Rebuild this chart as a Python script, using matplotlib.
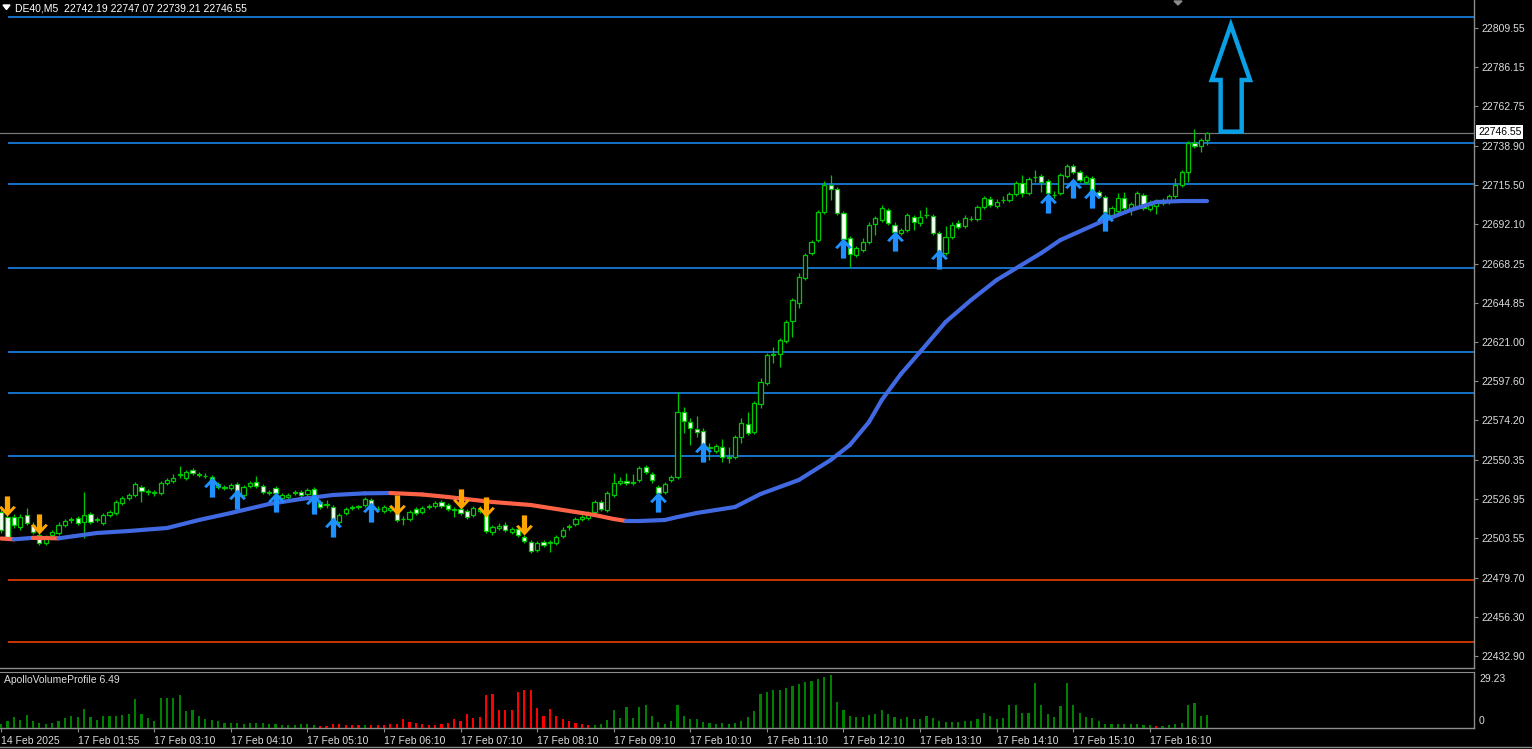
import numpy as np
import matplotlib
matplotlib.use('Agg')
import matplotlib.pyplot as plt
from matplotlib.collections import LineCollection
from matplotlib.patches import Polygon
from matplotlib.path import Path

plt.rcParams['font.family'] = ['Liberation Sans', 'DejaVu Sans']

symbol = 'DE40,M5'
last_ohlc = [22742.19, 22747.07, 22739.21, 22746.55]
indicator_name = 'ApolloVolumeProfile 6.49'
vol_max_label = 29.23

open_ = [
    22519.2, 22516.2, 22516.2, 22510.2, 22517.4, 22511.4, 22505.4, 22500.6, 22505.4, 22506.6,
    22511.4, 22514.4, 22515.6, 22513.2, 22518.0, 22514.4, 22512.6, 22517.4, 22518.6, 22524.6,
    22527.6, 22529.4, 22534.2, 22531.2, 22530.6, 22530.6, 22536.6, 22537.8, 22541.4, 22539.6,
    22544.4, 22541.4, 22540.8, 22540.2, 22534.2, 22533.6, 22533.6, 22536.0, 22529.4, 22534.8,
    22537.2, 22534.8, 22530.6, 22533.6, 22527.6, 22528.2, 22530.6, 22531.2, 22530.0, 22533.0,
    22525.2, 22523.4, 22522.2, 22513.2, 22518.6, 22521.6, 22521.9, 22523.4, 22526.4, 22521.0,
    22519.8, 22520.4, 22518.6, 22515.0, 22515.0, 22521.0, 22519.2, 22522.2, 22522.8, 22525.2,
    22523.4, 22520.4, 22521.0, 22519.8, 22517.4, 22519.8, 22518.6, 22507.2, 22509.6, 22511.4,
    22507.2, 22509.0, 22504.2, 22501.2, 22496.4, 22501.2, 22500.6, 22500.6, 22504.8, 22510.2,
    22512.0, 22515.0, 22515.6, 22519.2, 22525.2, 22520.4, 22529.4, 22536.6, 22537.8, 22536.6,
    22538.4, 22546.2, 22542.0, 22534.2, 22531.2, 22538.4, 22540.2, 22579.2, 22573.2, 22569.0,
    22567.8, 22557.6, 22555.8, 22558.2, 22551.6, 22552.2, 22564.2, 22572.0, 22567.2, 22584.0,
    22596.6, 22613.4, 22614.0, 22621.8, 22633.8, 22644.6, 22659.6, 22674.6, 22682.4, 22699.2,
    22715.4, 22713.0, 22698.6, 22683.6, 22673.4, 22676.4, 22681.2, 22692.0, 22694.4, 22700.4,
    22691.4, 22686.6, 22688.4, 22696.2, 22692.6, 22697.4, 22696.8, 22686.6, 22674.6, 22684.2,
    22692.6, 22690.8, 22695.0, 22695.0, 22702.2, 22707.0, 22702.8, 22706.4, 22706.4, 22710.0,
    22716.6, 22710.6, 22720.2, 22720.8, 22717.8, 22709.4, 22710.6, 22720.8, 22726.8, 22723.2,
    22717.2, 22719.6, 22711.2, 22708.2, 22697.4, 22699.8, 22707.6, 22700.4, 22702.8, 22709.4,
    22701.0, 22702.8, 22704.6, 22705.2, 22708.8, 22715.4, 22723.2, 22740.6, 22738.8, 22742.19,
]
close = [
    22508.4, 22504.2, 22511.4, 22516.2, 22512.6, 22507.2, 22500.6, 22504.2, 22507.2, 22511.4,
    22513.8, 22514.7, 22512.6, 22517.4, 22513.2, 22514.7, 22517.4, 22519.2, 22525.2, 22527.6,
    22529.4, 22536.0, 22531.8, 22531.5, 22530.9, 22536.6, 22538.4, 22539.6, 22541.7, 22543.2,
    22542.6, 22541.7, 22541.1, 22538.4, 22536.0, 22533.9, 22535.4, 22531.2, 22534.2, 22536.6,
    22534.8, 22531.2, 22531.2, 22530.6, 22529.4, 22529.4, 22531.2, 22529.4, 22532.4, 22529.4,
    22522.2, 22523.7, 22511.4, 22517.4, 22521.0, 22522.2, 22522.5, 22527.0, 22523.4, 22521.3,
    22522.2, 22521.6, 22514.4, 22515.3, 22519.2, 22518.6, 22521.6, 22522.5, 22524.6, 22522.8,
    22521.0, 22520.7, 22518.6, 22516.2, 22521.6, 22521.0, 22507.8, 22510.2, 22510.8, 22508.4,
    22509.0, 22505.4, 22501.8, 22495.8, 22500.6, 22499.4, 22500.9, 22504.2, 22508.4, 22510.5,
    22515.0, 22516.2, 22518.6, 22525.2, 22521.0, 22530.6, 22536.6, 22537.8, 22536.6, 22536.9,
    22545.6, 22543.2, 22538.4, 22530.6, 22536.0, 22540.2, 22579.2, 22573.8, 22569.6, 22567.2,
    22559.4, 22557.9, 22558.8, 22552.2, 22551.9, 22564.2, 22572.6, 22566.6, 22584.6, 22597.2,
    22613.4, 22613.7, 22622.4, 22633.2, 22646.4, 22660.2, 22673.4, 22681.2, 22699.2, 22715.4,
    22713.0, 22698.6, 22683.0, 22674.0, 22677.6, 22681.2, 22691.4, 22695.6, 22701.6, 22692.6,
    22687.2, 22688.4, 22697.4, 22693.2, 22696.2, 22697.7, 22686.6, 22675.8, 22684.2, 22691.4,
    22690.2, 22695.6, 22695.3, 22702.2, 22707.6, 22703.4, 22705.2, 22706.7, 22710.0, 22716.6,
    22710.6, 22719.0, 22720.5, 22717.2, 22710.6, 22709.7, 22721.4, 22726.8, 22723.2, 22718.4,
    22720.2, 22710.6, 22708.8, 22699.2, 22701.6, 22707.6, 22701.6, 22704.0, 22710.6, 22701.6,
    22703.4, 22705.2, 22705.8, 22708.8, 22715.4, 22723.2, 22740.6, 22738.8, 22742.4, 22746.55,
]
high = [
    22521.6, 22517.4, 22518.0, 22518.0, 22521.6, 22513.2, 22507.2, 22505.4, 22508.4, 22513.2,
    22515.0, 22516.2, 22516.8, 22531.2, 22519.2, 22516.2, 22518.6, 22520.4, 22526.4, 22528.8,
    22530.6, 22537.2, 22535.4, 22533.0, 22532.4, 22537.8, 22539.6, 22542.0, 22546.8, 22544.4,
    22545.6, 22543.2, 22542.6, 22541.4, 22537.2, 22535.4, 22536.6, 22537.2, 22535.4, 22537.8,
    22540.8, 22536.0, 22532.4, 22534.8, 22530.6, 22530.6, 22532.4, 22532.4, 22533.6, 22534.2,
    22526.4, 22526.4, 22523.4, 22518.6, 22522.2, 22523.4, 22523.4, 22528.2, 22527.6, 22522.8,
    22523.4, 22522.8, 22519.8, 22516.8, 22520.4, 22522.2, 22522.8, 22524.0, 22525.8, 22526.4,
    22524.6, 22522.2, 22522.2, 22521.0, 22522.8, 22522.8, 22519.8, 22511.4, 22512.6, 22513.2,
    22510.2, 22510.2, 22505.4, 22502.4, 22501.8, 22502.4, 22502.4, 22505.4, 22510.2, 22512.0,
    22516.2, 22517.4, 22519.8, 22526.4, 22526.4, 22531.8, 22542.6, 22540.2, 22542.6, 22542.0,
    22546.8, 22547.4, 22543.2, 22535.4, 22537.2, 22541.4, 22591.2, 22582.2, 22575.6, 22576.8,
    22569.6, 22560.6, 22560.0, 22563.0, 22558.2, 22565.4, 22575.6, 22579.2, 22585.8, 22599.6,
    22614.6, 22618.2, 22623.6, 22634.4, 22647.6, 22662.6, 22674.6, 22682.4, 22700.4, 22717.8,
    22721.4, 22714.2, 22699.8, 22684.8, 22678.8, 22683.6, 22693.2, 22696.8, 22703.4, 22701.6,
    22693.2, 22689.6, 22698.6, 22697.4, 22700.4, 22702.2, 22698.0, 22687.8, 22690.8, 22693.2,
    22694.4, 22697.4, 22696.8, 22703.4, 22708.8, 22708.8, 22707.0, 22708.8, 22711.2, 22717.8,
    22721.4, 22720.2, 22724.4, 22722.0, 22719.0, 22711.8, 22722.6, 22728.0, 22728.0, 22724.4,
    22721.4, 22720.8, 22712.4, 22709.4, 22702.8, 22710.6, 22711.2, 22705.2, 22711.8, 22710.6,
    22706.4, 22707.0, 22707.6, 22710.0, 22719.6, 22724.4, 22741.8, 22749.0, 22743.6, 22747.07,
]
low = [
    22506.6, 22502.4, 22509.6, 22508.4, 22511.4, 22506.0, 22499.4, 22499.4, 22504.2, 22505.4,
    22510.2, 22512.6, 22511.4, 22503.6, 22512.0, 22513.2, 22511.4, 22516.2, 22517.4, 22523.4,
    22526.4, 22528.2, 22525.2, 22529.4, 22528.8, 22529.4, 22535.4, 22536.6, 22539.6, 22538.4,
    22541.4, 22540.2, 22539.6, 22537.8, 22533.0, 22532.4, 22532.4, 22530.0, 22528.2, 22533.6,
    22533.6, 22530.0, 22529.4, 22529.4, 22526.4, 22527.0, 22529.4, 22528.2, 22528.8, 22528.2,
    22521.0, 22521.6, 22510.2, 22512.0, 22517.4, 22520.4, 22521.0, 22522.2, 22522.2, 22519.8,
    22518.6, 22519.2, 22513.2, 22511.4, 22513.8, 22517.4, 22518.0, 22521.0, 22521.6, 22521.6,
    22519.8, 22516.2, 22517.4, 22515.0, 22516.2, 22518.6, 22506.6, 22505.4, 22508.4, 22507.2,
    22506.0, 22504.2, 22500.6, 22494.6, 22495.2, 22498.2, 22495.2, 22499.4, 22503.6, 22508.4,
    22510.8, 22513.8, 22514.4, 22518.0, 22519.8, 22519.2, 22528.2, 22535.4, 22535.4, 22535.4,
    22537.2, 22542.0, 22536.6, 22529.4, 22530.0, 22537.2, 22539.0, 22566.6, 22559.4, 22564.2,
    22558.2, 22550.4, 22554.6, 22549.2, 22548.6, 22551.0, 22560.6, 22565.4, 22566.0, 22581.6,
    22595.4, 22608.6, 22606.2, 22620.6, 22624.2, 22641.6, 22658.4, 22673.4, 22681.2, 22698.0,
    22706.4, 22697.4, 22681.8, 22666.2, 22672.2, 22675.2, 22680.0, 22685.4, 22693.2, 22691.4,
    22686.0, 22685.4, 22687.2, 22688.4, 22690.8, 22695.6, 22685.4, 22674.6, 22673.4, 22683.0,
    22689.0, 22689.6, 22693.8, 22693.8, 22701.0, 22702.2, 22701.6, 22704.6, 22705.2, 22708.8,
    22708.2, 22709.4, 22717.2, 22711.2, 22709.4, 22707.6, 22709.4, 22719.6, 22722.0, 22717.2,
    22716.0, 22709.4, 22707.6, 22698.0, 22696.2, 22698.6, 22700.4, 22697.4, 22701.6, 22700.4,
    22699.8, 22698.0, 22703.4, 22704.0, 22707.6, 22714.2, 22717.2, 22737.6, 22735.2, 22739.21,
]

volume = [
    1.8, 3.5, 5.3, 4.0, 6.7, 3.5, 2.3, 1.9, 2.3, 3.2,
    4.9, 6.1, 5.3, 9.8, 5.3, 4.0, 6.1, 6.1, 6.1, 6.7,
    7.0, 15.1, 7.0, 4.9, 3.5, 15.8, 15.8, 15.8, 16.9, 8.8,
    9.1, 5.8, 4.4, 4.0, 3.2, 2.3, 2.6, 2.3, 1.9, 2.6,
    2.6, 2.3, 1.8, 1.8, 1.4, 1.4, 1.4, 1.8, 1.8, 1.4,
    0.9, 0.9, 1.8, 1.8, 1.4, 1.1, 1.1, 1.1, 1.1, 1.1,
    1.4, 1.8, 1.9, 4.6, 2.8, 2.6, 1.9, 1.4, 1.4, 1.9,
    2.6, 4.6, 3.2, 7.0, 4.9, 5.4, 17.2, 17.9, 9.3, 9.3,
    9.3, 18.6, 19.8, 19.8, 10.2, 6.3, 9.8, 5.8, 4.6, 3.5,
    2.6, 2.1, 1.4, 1.4, 1.8, 4.0, 9.0, 4.9, 10.7, 4.9,
    10.7, 11.9, 6.1, 2.8, 2.1, 3.5, 11.9, 6.3, 4.4, 4.4,
    2.8, 2.6, 2.1, 2.3, 2.1, 2.6, 3.5, 5.3, 8.8, 17.6,
    18.6, 19.8, 19.8, 20.7, 21.6, 22.8, 23.9, 24.6, 25.6, 26.7,
    27.4, 13.3, 9.3, 6.1, 5.3, 5.3, 6.7, 7.2, 9.3, 7.2,
    5.4, 4.6, 5.4, 4.6, 4.6, 6.3, 4.9, 3.2, 2.8, 2.8,
    2.8, 3.5, 3.5, 4.6, 7.9, 5.8, 4.4, 4.9, 11.9, 11.9,
    7.6, 7.6, 23.7, 11.9, 7.0, 5.3, 11.4, 23.7, 11.9, 7.6,
    5.3, 4.9, 3.2, 2.1, 1.8, 1.8, 1.8, 1.8, 2.1, 1.4,
    1.4, 0.9, 0.9, 1.4, 1.8, 2.6, 11.9, 12.8, 6.1, 6.7,
]
# runs of bars where the volume profile is "selling" (red)
vol_down_runs = [(50, 56), (58, 92), (181, 181)]

# moving average, read at some bars
ma_bars = [0, 2, 5, 9, 15, 20, 26, 31, 36, 42, 47, 52, 57, 61, 66, 70, 77, 83, 88, 93,
           96, 98, 100, 104, 106, 109, 112, 115, 119, 125, 130, 133, 136, 138, 141, 144,
           148, 152, 156, 163, 166, 173, 177, 181, 185, 189]
ma_vals = [22503.3, 22502.8, 22503.7, 22503.4, 22506.6, 22507.8, 22509.6, 22514.4, 22518.6,
           22524.0, 22527.0, 22529.4, 22530.4, 22530.6, 22529.7, 22528.2, 22525.2, 22523.4,
           22520.4, 22517.4, 22515.0, 22513.8, 22513.8, 22514.4, 22516.2, 22518.6, 22520.4,
           22522.2, 22530.0, 22538.4, 22550.4, 22559.4, 22573.2, 22586.4, 22602.0, 22615.2,
           22633.2, 22646.4, 22658.4, 22674.6, 22682.4, 22694.4, 22700.4, 22705.2, 22705.8,
           22705.8]

# signal arrows
buy_bars = [33, 37, 43, 49, 52, 58, 103, 110, 132, 140, 147, 164, 168, 171, 173]
buy_prices = [22533.9, 22527.0, 22524.9, 22524.0, 22510.5, 22518.9, 22524.9, 22554.9,
              22677.9, 22682.1, 22671.3, 22704.9, 22713.9, 22707.6, 22693.8]
sell_bars = [1, 6, 62, 72, 76, 82]
sell_prices = [22522.8, 22512.3, 22523.4, 22527.3, 22522.5, 22511.4]

# horizontal levels
blue_levels = [22816.2, 22740.6, 22716.0, 22665.6, 22615.2, 22590.6, 22552.8]
red_levels = [22478.4, 22441.2]

price_ticks = [22809.55, 22786.15, 22762.75, 22738.90, 22715.50, 22692.10, 22668.25,
               22644.85, 22621.00, 22597.60, 22574.20, 22550.35, 22526.95, 22503.55,
               22479.70, 22456.30, 22432.90]
time_bars = [0, 12, 24, 36, 48, 60, 72, 84, 96, 108, 120, 132, 144, 156, 168, 180]
time_labels = ['14 Feb 2025', '17 Feb 01:55', '17 Feb 03:10', '17 Feb 04:10', '17 Feb 05:10',
               '17 Feb 06:10', '17 Feb 07:10', '17 Feb 08:10', '17 Feb 09:10', '17 Feb 10:10',
               '17 Feb 11:10', '17 Feb 12:10', '17 Feb 13:10', '17 Feb 14:10', '17 Feb 15:10',
               '17 Feb 16:10']

# colours
BG = 'black'
GRID = '#8c8c8c'
TXT = '#dcdcdc'
CANDLE = '#00c800'
LEVEL_BLUE = '#1e90ff'
LEVEL_RED = '#ff4500'
MA_UP = '#4169e1'
MA_DOWN = '#ff6347'
BUY = '#1e90ff'
SELL = '#ffa500'
BIG_ARROW = '#0aa0e6'

W, H = 1532, 749
fig = plt.figure(figsize=(W / 100, H / 100), dpi=100, facecolor=BG)


def px_box(x0, y0, x1, y1):
    return [x0 / W, 1 - y1 / H, (x1 - x0) / W, (y1 - y0) / H]


ax = fig.add_axes(px_box(0, 0, 1474, 668))
axv = fig.add_axes(px_box(0, 672, 1474, 727.5))
xlim = (-0.17, 230.8)

for a in (ax, axv):
    a.set_facecolor(BG)
    a.set_xlim(*xlim)
    for s in ('left', 'top'):
        a.spines[s].set_visible(False)
    for s in ('right', 'bottom'):
        a.spines[s].set_color(GRID)
        a.spines[s].set_linewidth(1.0)
axv.spines['top'].set_visible(True)
axv.spines['top'].set_color(GRID)

ax.set_ylim(22425.6, 22826.4)

o = np.array(open_)
c = np.array(close)
hi = np.array(high)
lo = np.array(low)
x = np.arange(len(c))

# levels
ax.hlines(blue_levels, 1.1, xlim[1], colors=LEVEL_BLUE, lw=1.1, zorder=1)
ax.hlines(red_levels, 1.1, xlim[1], colors=LEVEL_RED, lw=1.1, zorder=1)
ax.axhline(last_ohlc[3], color='#777777', lw=0.9, zorder=1)

# candles
ax.vlines(x, lo, hi, color=CANDLE, lw=0.9, zorder=3)
bull = c >= o
ax.bar(x, np.abs(c - o), bottom=np.minimum(o, c), width=0.66,
       color=np.where(bull, 'black', 'white'), edgecolor=CANDLE, linewidth=0.9, zorder=4)

# moving average, red where it falls
pts = np.column_stack([ma_bars, ma_vals])
segs = np.stack([pts[:-1], pts[1:]], axis=1)
seg_cols = [MA_DOWN if b < a else MA_UP for a, b in zip(ma_vals[:-1], ma_vals[1:])]
ax.add_collection(LineCollection(segs, colors=seg_cols, linewidths=3.0,
                                 capstyle='round', joinstyle='round', zorder=5))

# signal arrows (thick arrow glyphs)
up_verts = [(0, 0.5), (0.42, 0.05), (0.3, -0.03), (0.13, 0.15), (0.13, -0.5),
            (-0.13, -0.5), (-0.13, 0.15), (-0.3, -0.03), (-0.42, 0.05), (0, 0.5)]
up_arrow = Path(up_verts, closed=True)
down_arrow = Path([(vx, -vy) for vx, vy in up_verts], closed=True)
ax.plot(buy_bars, buy_prices, ls='none', marker=up_arrow, ms=14.5, color=BUY, mew=0, zorder=6)
ax.plot(sell_bars, sell_prices, ls='none', marker=down_arrow, ms=14.5, color=SELL, mew=0, zorder=6)

# big hand-drawn arrow
big = [(192.7, 22811.4), (195.7, 22778.4), (194.4, 22778.4), (194.4, 22747.4),
       (191.1, 22747.4), (191.1, 22778.4), (189.7, 22778.4)]
ax.add_patch(Polygon(big, closed=True, fill=False, edgecolor=BIG_ARROW, lw=3.2,
                     joinstyle='miter', zorder=6))

# right price axis
ax.yaxis.tick_right()
ax.set_yticks(price_ticks)
ax.set_yticklabels([f'{p:.2f}' for p in price_ticks])
ax.tick_params(axis='y', colors=GRID, labelcolor=TXT, labelsize=7.5, length=3, pad=2)
ax.set_xticks([])

# volume panel
vol = np.array(volume)
vcols = np.array(['#008000'] * len(vol), dtype=object)
for a, b in vol_down_runs:
    vcols[a:b + 1] = '#ff0000'
axv.bar(x, vol, width=0.34, color=list(vcols), zorder=3)
axv.set_ylim(0, vol_max_label)
axv.set_yticks([])
axv.set_xticks(time_bars)
axv.set_xticklabels(time_labels, ha='left')
axv.tick_params(axis='x', colors=GRID, labelcolor=TXT, labelsize=7.5, length=3, pad=3)

fig.text(4 / W, 1 - 680 / H, indicator_name, color=TXT, fontsize=7.5, va='center')
fig.text(1479 / W, 1 - 679 / H, f'{vol_max_label:.2f}', color=TXT, fontsize=7.5, va='center')
fig.text(1479 / W, 1 - 721 / H, '0', color=TXT, fontsize=7.5, va='center')

# header
fig.patches.append(Polygon([(3 / W, 1 - 5 / H), (10 / W, 1 - 5 / H), (6.5 / W, 1 - 9.5 / H)],
                           closed=True, transform=fig.transFigure, color='white'))
fig.text(15 / W, 1 - 8.5 / H,
         f'{symbol}  ' + ' '.join(f'{v:.2f}' for v in last_ohlc),
         color='white', fontsize=7.5, va='center')
fig.patches.append(Polygon([(1174 / W, 1 - 1 / H), (1182 / W, 1 - 1 / H), (1178 / W, 1 - 5 / H)],
                           closed=True, transform=fig.transFigure, color='#8c8c8c'))

# current price box
fig.text(1478 / W, 1 - 132 / H, f'{last_ohlc[3]:.2f}', color='black', fontsize=7.5, va='center',
         bbox=dict(facecolor='white', edgecolor='none', pad=1.2))

fig.add_artist(plt.Line2D([0, 1], [1 - 747 / H, 1 - 747 / H], transform=fig.transFigure,
                          color=GRID, lw=1.0))

fig.savefig('out.png', dpi=100, facecolor=BG)
